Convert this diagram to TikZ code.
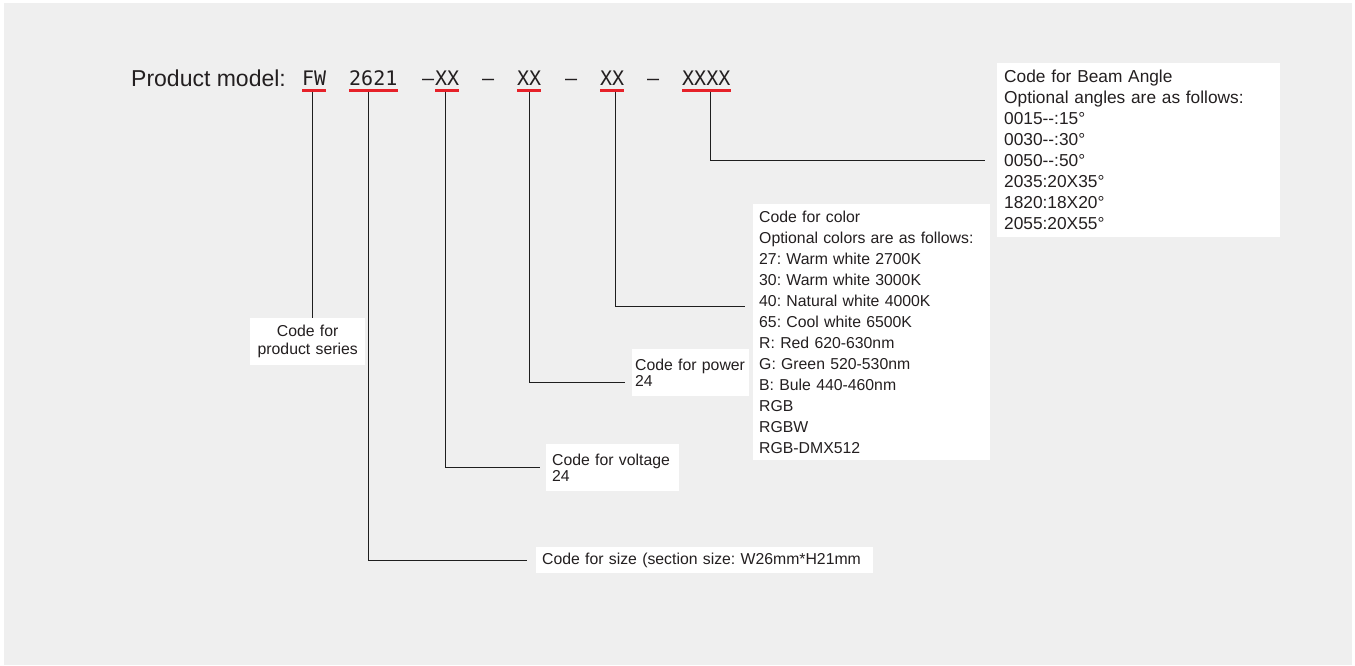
\documentclass[tikz,border=0pt]{standalone}
\usepackage{fontspec}
\setmainfont{Liberation Sans}
\newfontfamily\codefont{DejaVu Sans Mono}
\usetikzlibrary{positioning,calc}
\definecolor{bgcolor}{RGB}{239,239,239}
\definecolor{textcolor}{RGB}{35,31,32}
\definecolor{markcolor}{RGB}{230,33,41}
\definecolor{linecolor}{RGB}{30,30,30}
\frenchspacing
\tikzset{
titletext/.style={
  anchor=base west,
  inner sep=0pt,
  font=\fontsize{23}{28}\selectfont,
  text=textcolor
},
codetext/.style={
  anchor=base west,
  inner sep=0pt,
  font=\codefont\fontsize{20}{24}\selectfont,
  text=textcolor
},
infobox/.style={
  fill=white,
  anchor=north west,
  align=left,
  inner ysep=0pt,
  font=\fontsize{15.8}{21}\selectfont,
  text=textcolor
},
codemark/.style={
  draw=markcolor,
  line width=3pt
},
leader/.style={
  draw=linecolor,
  line width=1.2pt
}
}

\begin{document}
\begin{tikzpicture}[x=1pt,y=-1pt]
  \fill[white] (0,0) rectangle (1355,665);
  \fill[bgcolor] (4,3) rectangle (1352,665);

  % model code
  \node[titletext] (title) at (131,86) {Product model:};
  \node[codetext] (fw) at (302,85) {FW};
  \node[codetext] (size code) at (349,85) {2621};
  \node[codetext] (dash1) at (422,85) {–};
  \node[codetext] (volt code) at (435,85) {XX};
  \node[codetext] (dash2) at (482,85) {–};
  \node[codetext] (power code) at (517,85) {XX};
  \node[codetext] (dash3) at (565,85) {–};
  \node[codetext] (color code) at (600,85) {XX};
  \node[codetext] (dash4) at (647,85) {–};
  \node[codetext] (beam code) at (682,85) {XXXX};

  \foreach \c in {fw,size code,volt code,power code,color code,beam code}
    \draw[codemark] ([yshift=-5pt]\c.base west) -- ([yshift=-5pt]\c.base east);

  % explanation boxes
  \node[infobox, font=\fontsize{17.3}{21}\selectfont, text width=269pt, inner xsep=7pt, minimum height=174pt] (beam) at (997,63) {
    Code for Beam Angle\\
    Optional angles are as follows:\\
    0015-{}-:15°\\
    0030-{}-:30°\\
    0050-{}-:50°\\
    2035:20X35°\\
    1820:18X20°\\
    2055:20X55°};
  \node[infobox, text width=225pt, inner xsep=6pt, minimum height=256pt] (color) at (753,204) {
    Code for color\\
    Optional colors are as follows:\\
    27: Warm white 2700K\\
    30: Warm white 3000K\\
    40: Natural white 4000K\\
    65: Cool white 6500K\\
    R: Red 620-630nm\\
    G: Green 520-530nm\\
    B: Bule 440-460nm\\
    RGB\\
    RGBW\\
    RGB-DMX512};
  \node[infobox, font=\fontsize{15.8}{16}\selectfont, text width=111pt, inner xsep=3pt, minimum height=47pt] (power) at (632,349) {Code for power\\24};
  \node[infobox, font=\fontsize{15.8}{16}\selectfont, text width=121pt, inner xsep=6pt, minimum height=47pt] (volt) at (546,444) {Code for voltage\\24};
  \node[infobox, text width=325pt, inner xsep=6pt, minimum height=26pt] (size) at (536,547) {Code for size (section size: W26mm*H21mm};
  \node[infobox, align=center, font=\fontsize{15.8}{18}\selectfont, text width=103pt, inner xsep=6pt, minimum height=47pt] (series) at (250,318) {Code for\\product series};

  % leaders
  \draw[leader] ([xshift=-2pt,yshift=-6.5pt]fw.base) -- ([xshift=-2pt]fw.base |- series.north);
  \draw[leader, shorten >=9pt] ([xshift=-5pt,yshift=-6.5pt]size code.base) |- (size.west);
  \draw[leader, shorten >=6pt] ([xshift=-2pt,yshift=-6.5pt]volt code.base) |- (volt.west);
  \draw[leader, shorten >=7pt] ([yshift=-6.5pt]power code.base) |- ([yshift=-10pt]power.west);
  \draw[leader, shorten >=8pt] ([xshift=3pt,yshift=-6.5pt]color code.base) |- ([yshift=26pt]color.west);
  \draw[leader, shorten >=12pt] ([xshift=4pt,yshift=-6.5pt]beam code.base) |- ([yshift=-10pt]beam.west);
\end{tikzpicture}
\end{document}
